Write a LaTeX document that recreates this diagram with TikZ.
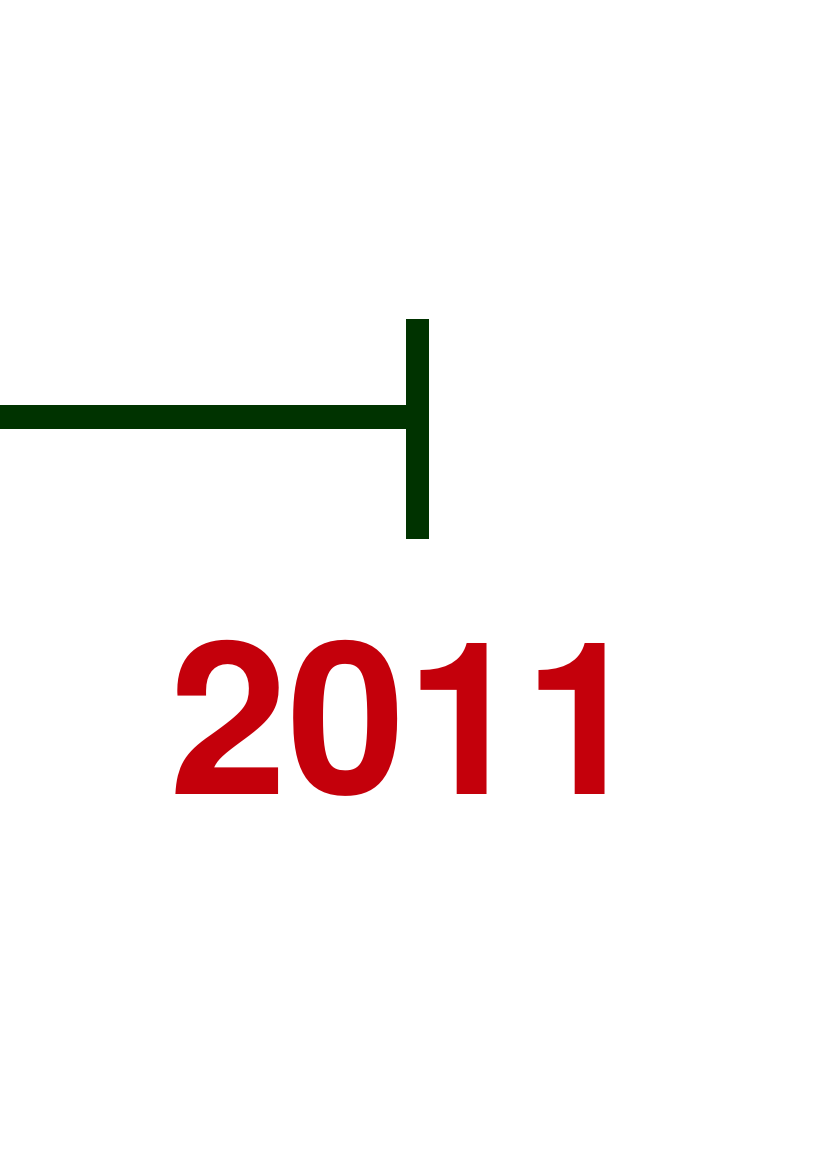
\documentclass[tikz,border=0pt]{standalone}
\usepackage{fontspec}
\setmainfont{TeX Gyre Heros}
\usepackage{xcolor}
\usetikzlibrary{positioning}
\definecolor{rulegreen}{RGB}{0,51,0}
\definecolor{yearred}{RGB}{196,0,11}

\begin{document}
\begin{tikzpicture}[x=1pt, y=-1pt,
      bar/.style={draw=rulegreen, line width=24pt},
      tickbar/.style={draw=rulegreen, line width=23.5pt},
      yearlabel/.style={text=yearred, inner sep=0pt,
        font=\fontsize{213}{256}\selectfont\bfseries},
    ]
    \useasboundingbox (0,0) rectangle (826,1169);
    \coordinate (start) at (0,417);
    \coordinate (tick) at (417.5,417);
    \coordinate (ticktop) at (417.5,319);
    \coordinate (tickbot) at (417.5,539);
    \draw[bar] (start) -- (tick);
    \draw[tickbar] (ticktop) -- (tickbot);
    \node[yearlabel, anchor=base west] (year) at (169,794) {2011};
  \end{tikzpicture}
\end{document}
